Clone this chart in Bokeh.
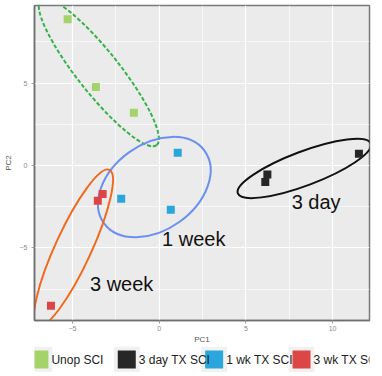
import numpy as np
from bokeh.plotting import figure
from bokeh.models import ColumnDataSource, Range1d, FixedTicker
from bokeh.layouts import column
from bokeh.core.properties import value
from bokeh.embed import file_html
from bokeh.resources import INLINE

# ---- data ----
groups = ["Unop SCI", "3 day TX SCI", "1 wk TX SCI", "3 wk TX SCI"]
colors = ["#A2D46A", "#262626", "#2AA6DC", "#DC4646"]

unop_pc1 = [-5.28, -3.65, -1.46]
unop_pc2 = [8.87, 4.76, 3.20]
day3_pc1 = [6.24, 6.12, 11.52]
day3_pc2 = [-0.54, -1.00, 0.71]
wk1_pc1 = [1.07, -2.19, 0.67]
wk1_pc2 = [0.77, -2.02, -2.68]
wk3_pc1 = [-3.54, -3.26, -6.24]
wk3_pc2 = [-2.14, -1.73, -8.50]

# ellipses (center in data units)
ell_x = [-3.48, 8.37, -0.28, -4.94]
ell_y = [5.65, -0.18, -1.31, -5.00]
ell_colors = ["#35B34A", "#111111", "#6B8FF2", "#F06A1E"]
ell_dash = ["4 2", "solid", "solid", "solid"]

ann_text = ["3 day", "1 week", "3 week"]
ann_x = [7.64, 0.17, -3.99]
ann_y = [-2.2, -4.46, -7.2]

x_ticks = [-5, 0, 5, 10]
y_ticks = [-5, 0, 5]

FONT = "Liberation Sans"

p = figure(width=374, height=346, output_backend="svg", toolbar_location=None,
           x_range=Range1d(-7.19, 12.13), y_range=Range1d(-9.4, 9.7),
           min_border_left=24, min_border_right=5, min_border_top=5, min_border_bottom=0)
p.background_fill_color = "#EBEBEB"
p.border_fill_color = "white"
p.outline_line_color = "#7A7A7A"
p.outline_line_width = 1.5

for ax in (p.xaxis[0], p.yaxis[0]):
    ax.axis_line_color = "#6E6E6E"
    ax.axis_line_width = 1.5
    ax.major_tick_line_color = "#9A9A9A"
    ax.major_tick_out = 3
    ax.major_tick_in = 0
    ax.minor_tick_line_color = None
    ax.major_label_text_font_size = "7px"
    ax.major_label_text_color = "#8A8A8A"
    ax.major_label_text_font = FONT
    ax.axis_label_text_font_size = "8px"
    ax.axis_label_text_color = "#555555"
    ax.axis_label_text_font = FONT
    ax.axis_label_text_font_style = "normal"
p.xaxis.major_label_standoff = 1
p.xaxis.axis_label_standoff = 1
p.yaxis.major_label_standoff = 3
p.yaxis.axis_label_standoff = 4
p.xaxis.ticker = FixedTicker(ticks=x_ticks, minor_ticks=[-7.5, -2.5, 2.5, 7.5, 12.5])
p.yaxis.ticker = FixedTicker(ticks=y_ticks, minor_ticks=[-7.5, -2.5, 2.5, 7.5])
p.xaxis.axis_label = "PC1"
p.yaxis.axis_label = "PC2"

p.grid.grid_line_color = "white"
p.grid.grid_line_width = 1.2
p.grid.minor_grid_line_color = "white"
p.grid.minor_grid_line_width = 0.6

# ellipses (screen-size axes, rotation in radians)
ell_w = [186, 142, 124, 172]
ell_h = [42, 34, 86, 36]
ell_ang = [-0.90, 0.36, 0.62, 1.14]
for i in range(4):
    p.ellipse(x=[ell_x[i]], y=[ell_y[i]], width=[ell_w[i]], height=[ell_h[i]],
              width_units="screen", height_units="screen", angle=[ell_ang[i]],
              fill_color=None, line_color=ell_colors[i], line_width=2,
              line_dash=ell_dash[i])

series = [(unop_pc1, unop_pc2), (day3_pc1, day3_pc2), (wk1_pc1, wk1_pc2), (wk3_pc1, wk3_pc2)]
for (xs, ys), c in zip(series, colors):
    p.scatter(x=xs, y=ys, marker="square", size=8, fill_color=c, line_color=None)

p.text(x=ann_x, y=ann_y, text=ann_text, text_font=value(FONT), text_font_size="20px",
       text_color="#111111", text_baseline="middle", text_align="left")

# ---- legend strip ----
leg = figure(width=374, height=26, output_backend="svg", toolbar_location=None,
             x_range=Range1d(-0.056, 3.778), y_range=Range1d(0, 1),
             min_border_left=24, min_border_right=5, min_border_top=0, min_border_bottom=0)
leg.axis.visible = False
leg.grid.visible = False
leg.outline_line_color = None
leg.background_fill_color = "white"
idx = list(range(len(groups)))
src = ColumnDataSource(dict(x=idx, y=[0.5] * 4, label=groups, color=colors))
leg.rect(x="x", y="y", width=26, height=26, width_units="screen", height_units="screen",
         fill_color="#F1F1F1", line_color=None, source=src)
leg.rect(x="x", y="y", width=18, height=18, width_units="screen", height_units="screen",
         fill_color="color", line_color=None, source=src)
leg.text(x="x", y="y", text="label", x_offset=12, source=src, text_font=value(FONT),
         text_font_size="12px", text_color="#222222", text_baseline="middle")

layout = column(p, leg, spacing=0)
open("out.html", "w").write(file_html(layout, INLINE))
